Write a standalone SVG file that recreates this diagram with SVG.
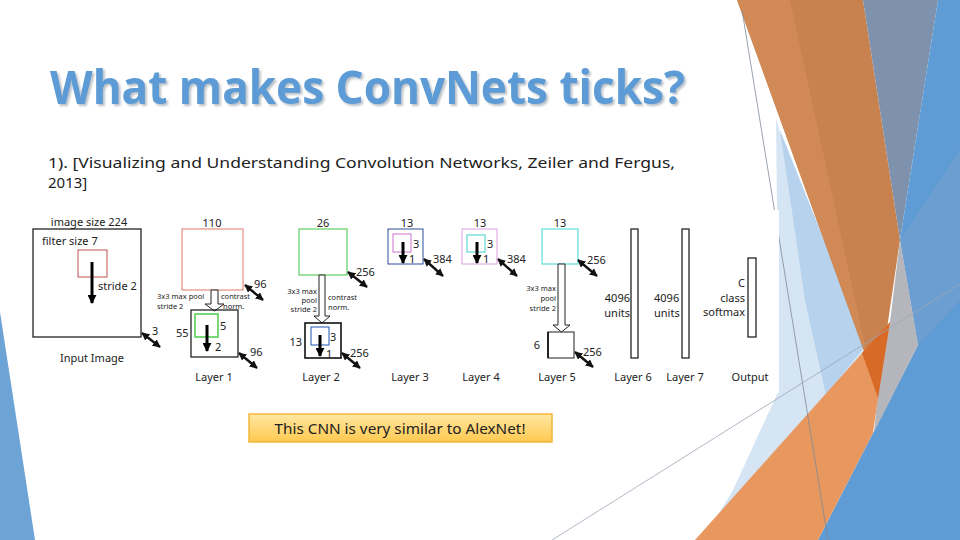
<svg xmlns="http://www.w3.org/2000/svg" width="960" height="540" viewBox="0 0 960 540">
<defs>
<style>
.t{font-family:"Noto Sans","Liberation Sans",sans-serif;fill:#222;}
.lb{font-size:11px;}
.sm{font-size:7.5px;}
.nm{font-size:11px;}
.ar{stroke:#000;stroke-width:3;fill:none;}
.da{stroke:#111;stroke-width:2.4;fill:none;}
.box{fill:none;stroke:#111;stroke-width:1.2;}
.hol{fill:#fff;stroke:#222;stroke-width:1;}
</style>
<marker id="ah" viewBox="0 0 10 10" refX="9" refY="5" markerWidth="9" markerHeight="9" markerUnits="userSpaceOnUse" orient="auto-start-reverse">
<path d="M0,0 L10,5 L0,10 z" fill="#000"/>
</marker>
<marker id="dh" viewBox="0 0 10 10" refX="9" refY="5" markerWidth="8" markerHeight="8" markerUnits="userSpaceOnUse" orient="auto-start-reverse">
<path d="M0,0 L10,5 L0,10 z" fill="#111"/>
</marker>
<linearGradient id="cg" x1="0" y1="0" x2="0" y2="1">
<stop offset="0" stop-color="#ffe7a3"/>
<stop offset="1" stop-color="#ffc94f"/>
</linearGradient>
<filter id="sh" x="-5%" y="-20%" width="110%" height="140%">
<feDropShadow dx="2" dy="2" stdDeviation="0.8" flood-color="#7f8c99" flood-opacity="0.55"/>
</filter>
</defs>
<rect width="960" height="540" fill="#fff"/>
<g id="decoration">
<polygon points="0,312 35,540 0,540" fill="#6ea3d6"/>
<polygon points="776,118 805,222 866,345 880,385 740,540 703,540 733,490 779,390" fill="#d6e5f4"/>
<polygon points="780,130 866,345 826,395 805,300" fill="#b6d2ec"/>
<polygon points="737,0 863,0 900,240 878,390" fill="#c8824f"/>
<polygon points="737,0 790,0 866,350 862,345" fill="#d48b58" opacity="0.7"/>
<polygon points="863,0 938,0 900,240" fill="#7f92ad"/>
<polygon points="938,0 960,0 960,540 818,540 873,433 918,345 900,240" fill="#5f9bd4"/>
<polygon points="900,240 960,150 960,300 918,345" fill="#6f9fcf" opacity="0.8"/>
<polygon points="900,240 918,345 874,432 878,392 890,322" fill="#b5b6bc"/>
<polygon points="695,540 890,322 878,398 873,433 818,540" fill="#e8975f"/>
<polygon points="862,353 890,322 878,398" fill="#d86a27"/>
<line x1="742" y1="10" x2="828" y2="540" stroke="#7d8a99" stroke-width="0.8"/>
<line x1="552" y1="540" x2="960" y2="284" stroke="#9aa7b5" stroke-width="0.8"/>
</g>
<rect x="28" y="210" width="751" height="183" fill="#fff"/>
<g id="title">
<text x="50" y="104" font-family="'Open Sans','DejaVu Sans',sans-serif" font-weight="700" font-size="46" fill="#5b9bd5" textLength="635" lengthAdjust="spacingAndGlyphs" filter="url(#sh)">What makes ConvNets ticks?</text>
</g>
<g id="subtitle">
<text class="t" x="48" y="168" font-size="15" fill="#111" textLength="627" lengthAdjust="spacingAndGlyphs">1). [Visualizing and Understanding Convolution Networks, Zeiler and Fergus,</text>
<text class="t" x="48" y="188" font-size="15" fill="#111">2013]</text>
</g>
<g id="input">
<text class="t lb" x="89" y="226" text-anchor="middle">image size 224</text>
<rect class="box" x="33" y="229" width="108" height="108"/>
<text class="t lb" x="42" y="245">filter size 7</text>
<rect x="78" y="250" width="29" height="27" fill="none" stroke="#c0504d" stroke-width="1"/>
<line class="ar" x1="92" y1="262" x2="92" y2="303" marker-end="url(#ah)"/>
<text class="t lb" x="98" y="290">stride 2</text>
<text class="t lb" x="92" y="362" text-anchor="middle">Input Image</text>
</g>
<g id="layer1">
<text class="t lb" x="212" y="227" text-anchor="middle">110</text>
<rect x="182" y="229" width="61" height="61" fill="none" stroke="#e07a6a" stroke-width="1"/>
<path class="hol" d="M211,290 H218 V304 H224 L214.5,311 L205,304 H211 Z"/>
<text class="t sm" x="157" y="299">3x3 max pool</text>
<text class="t sm" x="157" y="309">stride 2</text>
<text class="t sm" x="221" y="299">contrast</text>
<text class="t sm" x="223" y="309">norm.</text>
<rect class="box" x="191" y="310" width="47" height="47"/>
<rect x="195" y="314" width="23" height="23" fill="none" stroke="#4ccc4c" stroke-width="1.5"/>
<line class="ar" x1="207" y1="325" x2="207" y2="351" marker-end="url(#ah)"/>
<text class="t nm" x="220" y="330">5</text>
<text class="t nm" x="215" y="351">2</text>
<text class="t nm" x="176" y="337">55</text>
<text class="t lb" x="214" y="381" text-anchor="middle">Layer 1</text>
</g>
<g id="layer2">
<text class="t lb" x="323" y="227" text-anchor="middle">26</text>
<rect x="299" y="229" width="48" height="46" fill="none" stroke="#5fcf5f" stroke-width="1.2"/>
<path class="hol" d="M319,275 H325 V316 H330 L322,323 L314,316 H319 Z"/>
<text class="t sm" x="317" y="294" text-anchor="end">3x3 max</text>
<text class="t sm" x="317" y="303" text-anchor="end">pool</text>
<text class="t sm" x="317" y="312" text-anchor="end">stride 2</text>
<text class="t sm" x="328" y="300">contrast</text>
<text class="t sm" x="328" y="310">norm.</text>
<rect x="305" y="323" width="36" height="35" fill="none" stroke="#111" stroke-width="1.6"/>
<rect x="311" y="327" width="18" height="18" fill="none" stroke="#4472c4" stroke-width="1.2"/>
<line class="ar" x1="320" y1="335" x2="320" y2="356" marker-end="url(#ah)"/>
<text class="t nm" x="330" y="341">3</text>
<text class="t nm" x="326" y="358">1</text>
<text class="t nm" x="302" y="346" text-anchor="end">13</text>
<text class="t lb" x="321" y="381" text-anchor="middle">Layer 2</text>
</g>
<g id="layer3">
<text class="t lb" x="407" y="227" text-anchor="middle">13</text>
<rect x="388" y="229" width="35" height="35" fill="none" stroke="#2f4c9a" stroke-width="1"/>
<rect x="393" y="234" width="18" height="18" fill="none" stroke="#d070d0" stroke-width="1"/>
<line class="ar" x1="403" y1="242" x2="403" y2="263" marker-end="url(#ah)"/>
<text class="t nm" x="413" y="248">3</text>
<text class="t nm" x="409" y="263" fill="#777">1</text>
<text class="t lb" x="410" y="381" text-anchor="middle">Layer 3</text>
</g>
<g id="layer4">
<text class="t lb" x="480" y="227" text-anchor="middle">13</text>
<rect x="462" y="229" width="35" height="35" fill="none" stroke="#e49ae4" stroke-width="1"/>
<rect x="467" y="235" width="18" height="17" fill="none" stroke="#40d0d0" stroke-width="1"/>
<line class="ar" x1="477" y1="242" x2="477" y2="263" marker-end="url(#ah)"/>
<text class="t nm" x="487" y="248">3</text>
<text class="t nm" x="483" y="263">1</text>
<text class="t lb" x="481" y="381" text-anchor="middle">Layer 4</text>
</g>
<g id="layer5">
<text class="t lb" x="560" y="227" text-anchor="middle">13</text>
<rect x="542" y="229" width="36" height="35" fill="none" stroke="#5fdede" stroke-width="1.2"/>
<path class="hol" d="M558,264 H565 V325 H570 L561.5,332 L553,325 H558 Z"/>
<text class="t sm" x="556" y="291" text-anchor="end">3x3 max</text>
<text class="t sm" x="556" y="301" text-anchor="end">pool</text>
<text class="t sm" x="556" y="311" text-anchor="end">stride 2</text>
<rect x="548" y="332" width="26" height="26" fill="none" stroke="#444" stroke-width="1.2"/>
<line x1="548" y1="332" x2="548" y2="358" stroke="#222" stroke-width="2"/>
<text class="t nm" x="540" y="349" text-anchor="end">6</text>
<text class="t lb" x="557" y="381" text-anchor="middle">Layer 5</text>
</g>
<g id="layer6">
<rect x="631" y="229" width="7" height="129" fill="none" stroke="#111" stroke-width="1.2"/>
<text class="t nm" x="630" y="302" text-anchor="end">4096</text>
<text class="t nm" x="630" y="317" text-anchor="end">units</text>
<text class="t lb" x="633" y="381" text-anchor="middle">Layer 6</text>
</g>
<g id="layer7">
<rect x="682" y="229" width="7" height="129" fill="none" stroke="#111" stroke-width="1.2"/>
<text class="t nm" x="654" y="302">4096</text>
<text class="t nm" x="654" y="317">units</text>
<text class="t lb" x="685" y="381" text-anchor="middle">Layer 7</text>
</g>
<g id="output">
<rect x="748" y="258" width="8" height="79" fill="none" stroke="#111" stroke-width="1.2"/>
<text class="t nm" x="745" y="287" text-anchor="end">C</text>
<text class="t nm" x="745" y="302" text-anchor="end">class</text>
<text class="t nm" x="745" y="316" text-anchor="end">softmax</text>
<text class="t lb" x="750" y="381" text-anchor="middle">Output</text>
</g>
<g id="connectors">
<line class="da" x1="142" y1="333" x2="160" y2="347" marker-start="url(#dh)" marker-end="url(#dh)"/>
<text class="t nm" x="152" y="335">3</text>
<line class="da" x1="245" y1="285" x2="263" y2="300" marker-start="url(#dh)" marker-end="url(#dh)"/>
<text class="t nm" x="254" y="288">96</text>
<line class="da" x1="239" y1="353" x2="257" y2="368" marker-start="url(#dh)" marker-end="url(#dh)"/>
<text class="t nm" x="250" y="356">96</text>
<line class="da" x1="348" y1="272" x2="367" y2="287" marker-start="url(#dh)" marker-end="url(#dh)"/>
<text class="t nm" x="356" y="276">256</text>
<line class="da" x1="342" y1="353" x2="360" y2="368" marker-start="url(#dh)" marker-end="url(#dh)"/>
<text class="t nm" x="350" y="357">256</text>
<line class="da" x1="424" y1="259" x2="443" y2="276" marker-start="url(#dh)" marker-end="url(#dh)"/>
<text class="t nm" x="433" y="263">384</text>
<line class="da" x1="498" y1="259" x2="517" y2="276" marker-start="url(#dh)" marker-end="url(#dh)"/>
<text class="t nm" x="507" y="263">384</text>
<line class="da" x1="578" y1="260" x2="597" y2="276" marker-start="url(#dh)" marker-end="url(#dh)"/>
<text class="t nm" x="587" y="264">256</text>
<line class="da" x1="575" y1="352" x2="593" y2="367" marker-start="url(#dh)" marker-end="url(#dh)"/>
<text class="t nm" x="583" y="356">256</text>
</g>
<g id="callout">
<rect x="249" y="414" width="303" height="28" fill="url(#cg)" stroke="#f2b63a" stroke-width="1.5"/>
<text class="t" x="400" y="434" font-size="13.5" text-anchor="middle" fill="#111" textLength="251" lengthAdjust="spacingAndGlyphs">This CNN is very similar to AlexNet!</text>
</g>
</svg>
